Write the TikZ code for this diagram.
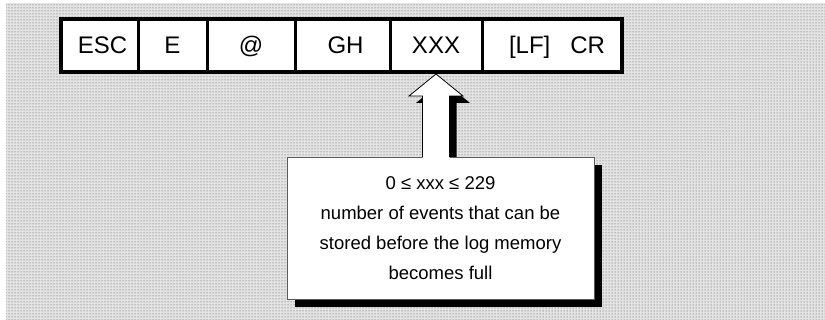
\documentclass[tikz,border=0pt]{standalone}
\usepackage{fontspec}
\setmainfont{Liberation Sans}
\usetikzlibrary{positioning,calc,patterns,shadows}

\tikzset{
    cell/.style={
        rectangle,
        draw=black,
        fill=white,
        line width=3pt,
        minimum height=53pt,
        inner sep=0pt,
        outer sep=0pt,
        text height=17pt,
        text depth=0pt,
        font=\fontsize{24}{28}\selectfont
    },
    note/.style={
        rectangle,
        draw=black!65,
        fill=white,
        line width=0.8pt,
        minimum width=307pt,
        minimum height=142pt,
        inner sep=0pt,
        outer sep=0pt,
        align=center,
        font=\fontsize{18.5}{30}\selectfont,
        drop shadow={shadow xshift=8pt, shadow yshift=-8pt, fill=black, opacity=1}
    },
    pointer/.style={fill=white},
    pointer shadow/.style={fill=black}
}

\begin{document}
\begin{tikzpicture}[x=1pt,y=-1pt]
    % Page size and dotted background
    \useasboundingbox (0,0) rectangle (825,320);
    \fill[gray!22] (6,3) rectangle (825,320);
    \fill[pattern=dots, pattern color=black!70] (6,3) rectangle (825,320);

    % Command string fields
    \node[cell, minimum width=77pt] (esc) at (99.5,45.5) {\hspace{6pt}ESC};
    \node[cell, minimum width=69pt, right=0pt of esc] (e) {E};
    \node[cell, minimum width=88pt, right=0pt of e] (at) {@};
    \node[cell, minimum width=95pt, right=0pt of at] (gh) {\hspace{6pt}GH};
    \node[cell, minimum width=92pt, right=0pt of gh] (xxx) {XXX};
    \node[cell, minimum width=140pt, right=0pt of xxx] (lfcr) {\hspace{10pt}[LF]\hspace{20pt}CR};
    \draw[line width=4pt] (esc.north west) rectangle (lfcr.south east);

    % Explanation box
    \node[note] (note) at (440.5,228)
        {0 ≤ xxx ≤ 229\\
         number of events that can be\\
         stored before the log memory\\
         becomes full};

    % Arrow from the box up to the XXX field
    \coordinate (tip) at ($(xxx.south)+(0,2)$);
    \coordinate (foot) at (note.north -| tip);
    \fill[pointer shadow] ($(foot)+(-6.5,0)$) -- ($(tip)+(-6.5,29)$)
        -- ($(tip)+(-20,29)$) -- ($(tip)+(7,7)$) -- ($(tip)+(34,29)$)
        -- ($(tip)+(20.5,29)$) -- ($(foot)+(20.5,0)$) -- cycle;
    \fill[pointer] ($(foot)+(-13.5,1)$) -- ($(tip)+(-13.5,22)$)
        -- ($(tip)+(-27,22)$) -- (tip) -- ($(tip)+(27,22)$)
        -- ($(tip)+(13.5,22)$) -- ($(foot)+(13.5,1)$) -- cycle;
    \draw[line width=0.8pt] ($(foot)+(-13.5,0)$) -- ($(tip)+(-13.5,22)$)
        -- ($(tip)+(-27,22)$) -- (tip) -- ($(tip)+(27,22)$)
        -- ($(tip)+(13.5,22)$) -- ($(foot)+(13.5,0)$);
\end{tikzpicture}
\end{document}
